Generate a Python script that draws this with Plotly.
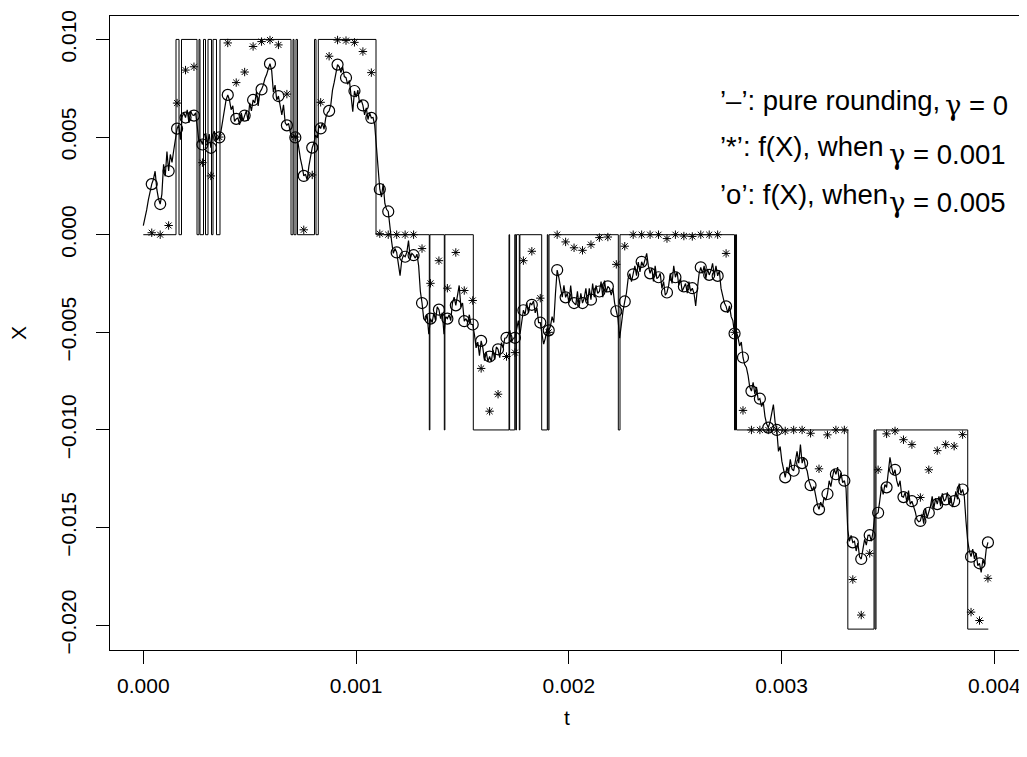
import numpy as np
import plotly.graph_objects as go

# ---------------- data ----------------
# simulated path X, values in units of 1e-3, sampled on a uniform time grid
PATH_DT = 7.94e-6          # time step of the path samples (s)
path_milli = [
    0.46,
    0.81, 1.27, 1.78, 2.28, 2.59,
    2.84, 3.25, 2.33, 1.83, 1.57,
    2.08, 3.60, 2.99, 4.26, 3.26,
    4.11, 3.70, 4.31, 5.0, 5.43,
    5.63, 4.87, 6.04, 6.24, 6.0,
    6.39, 5.73, 6.34, 6.14, 6.1,
    6.24, 5.53, 4.72, 4.87, 4.62,
    5.1, 5.2, 4.6, 5.15, 4.45,
    5.1, 5.3, 4.8, 4.9, 4.98,
    5.3, 5.9, 6.5, 6.9, 7.16,
    6.9, 6.4, 6.6, 5.8, 5.93,
    5.98, 5.63, 6.24, 5.83, 6.1,
    6.34, 5.83, 6.75, 6.34, 6.9,
    6.75, 7.3, 6.6, 7.3, 7.44,
    7.66, 8.0, 8.2, 8.5, 8.76,
    8.4, 7.3, 7.66, 6.9, 7.1,
    6.65, 6.14, 6.65, 5.73, 5.6,
    5.7, 5.25, 4.95, 5.1, 4.98,
    5.05, 4.4, 3.9, 3.5, 3.01,
    3.1, 2.8, 3.5, 4.1, 4.46,
    4.7, 5.1, 4.95, 5.6, 5.44,
    5.73, 5.4, 5.98, 6.24, 6.34,
    6.65, 7.4, 7.8, 8.2, 8.71,
    8.6, 8.3, 8.6, 8.1, 8.04,
    7.7, 7.9, 7.15, 6.3, 7.36,
    7.05, 7.4, 6.75, 6.9, 6.62,
    6.14, 6.5, 5.9, 6.24, 5.98,
    6.0, 5.6, 4.6, 3.2, 2.33,
    1.93, 2.6, 1.6, 1.3, 1.19,
    0.3, -0.35, -0.96, -0.7, -0.91,
    -1.6, -2.1, -1.3, -1.05, -1.13,
    -0.9, -0.3, -1.2, -0.96, -1.05,
    -1.2, -1.0, -1.6, -2.9, -3.5,
    -4.3, -4.4, -4.1, -5.1, -4.3,
    -4.5, -4.0, -4.4, -3.7, -3.84,
    -4.3, -4.0, -5.1, -4.2, -4.3,
    -4.1, -4.4, -3.5, -3.2, -3.62,
    -3.0, -2.6, -3.7, -3.5, -4.43,
    -4.3, -4.5, -4.1, -4.6, -4.6,
    -5.1, -5.8, -5.5, -6.2, -5.44,
    -5.8, -6.45, -6.0, -6.5, -6.24,
    -6.5, -5.9, -6.4, -5.75, -5.87,
    -6.3, -5.53, -5.8, -5.3, -5.28,
    -5.1, -4.9, -5.5, -5.3, -5.28,
    -4.8, -4.4, -5.1, -4.4, -3.87,
    -4.1, -3.5, -4.0, -3.5, -3.59,
    -3.4, -4.0, -3.75, -4.5, -4.5,
    -5.1, -5.6, -5.3, -4.8, -4.9,
    -4.7, -4.2, -4.5, -3.0, -1.81,
    -2.2, -2.7, -3.2, -2.6, -3.21,
    -3.0, -3.5, -2.6, -3.4, -3.5,
    -3.6, -2.9, -3.7, -3.0, -3.5,
    -3.25, -2.75, -3.5, -2.75, -3.33,
    -2.5, -3.2, -2.6, -3.0, -2.91,
    -2.4, -3.2, -2.35, -2.95, -2.65,
    -2.75, -3.1, -2.75, -3.5, -3.92,
    -4.3, -5.3, -4.5, -3.9, -3.42,
    -3.0, -2.25, -2.0, -2.4, -2.03,
    -1.6, -2.1, -1.4, -1.9, -1.39,
    -1.6, -1.2, -0.96, -1.6, -1.98,
    -1.7, -2.4, -1.6, -2.25, -2.18,
    -1.98, -2.75, -2.4, -3.1, -2.96,
    -2.6, -1.98, -2.5, -1.6, -2.18,
    -1.9, -2.6, -2.25, -2.9, -2.65,
    -2.5, -3.0, -2.4, -2.9, -2.74,
    -3.0, -3.65, -2.75, -2.0, -1.67,
    -1.98, -1.6, -2.25, -1.75, -2.06,
    -1.85, -1.47, -2.1, -1.6, -2.11,
    -1.85, -2.75, -3.1, -3.5, -3.67,
    -4.0, -3.65, -4.2, -4.4, -5.06,
    -4.95, -5.25, -5.7, -5.5, -6.29,
    -6.65, -6.8, -7.2, -7.8, -8.01,
    -7.56, -8.15, -7.8, -8.47, -8.4,
    -8.8, -8.57, -9.3, -9.7, -9.88,
    -9.6, -9.1, -8.7, -9.6, -10.0,
    -11.1, -10.85, -11.6, -12.1, -12.43,
    -11.9, -12.2, -11.5, -12.0, -12.09,
    -11.6, -11.1, -11.7, -10.75, -11.7,
    -11.4, -11.9, -12.1, -12.6, -12.83,
    -13.1, -12.9, -13.45, -13.8, -14.07,
    -13.7, -13.95, -13.45, -13.6, -13.28,
    -12.6, -12.9, -12.4, -12.0, -12.27,
    -11.9, -12.6, -12.2, -12.7, -12.6,
    -13.0, -15.1, -15.7, -15.4, -15.76,
    -15.7, -16.2, -15.8, -16.5, -16.61,
    -16.1, -15.6, -15.9, -15.4, -15.39,
    -15.7, -15.2, -14.4, -14.3, -14.24,
    -13.6, -12.9, -13.3, -12.8, -12.94,
    -12.1, -11.4, -11.9, -12.3, -12.04,
    -12.6, -12.9, -12.6, -13.4, -13.44,
    -13.2, -13.7, -13.1, -13.8, -13.65,
    -13.9, -14.2, -14.6, -14.7, -14.66,
    -14.3, -14.8, -14.0, -14.5, -14.24,
    -13.9, -13.4, -14.0, -13.5, -13.8,
    -13.4, -13.9, -13.25, -13.65, -13.56,
    -13.2, -13.8, -13.45, -13.95, -13.65,
    -13.15, -13.55, -12.75, -13.25, -13.05,
    -13.4, -14.66, -15.68, -16.2, -16.49,
    -16.1, -16.6, -16.3, -16.95, -16.83,
    -17.3, -16.65, -16.9, -16.1, -15.76,
]

# marker times: every 5th path sample (100 markers)
MARK_DT = 3.97e-5
# f(X), gamma = 0.005  (circles), units of 1e-3
circle_milli = [
    2.59, 1.57, 3.26, 5.43, 6.0, 6.1, 4.62, 4.45, 4.98, 7.16,
    5.93, 6.1, 6.9, 7.44, 8.76, 7.1, 5.6, 4.98, 3.01, 4.46,
    5.44, 6.34, 8.71, 8.04, 7.36, 6.62, 5.98, 2.33, 1.19, -0.91,
    -1.13, -1.05, -3.5, -4.3, -3.84, -4.3, -3.62, -4.43, -4.6, -5.44,
    -6.24, -5.87, -5.28, -5.28, -3.87, -3.59, -4.5, -4.9, -1.81, -3.21,
    -3.5, -3.5, -3.33, -2.91, -2.65, -3.92, -3.42, -2.03, -1.39, -1.98,
    -2.18, -2.96, -2.18, -2.65, -2.74, -1.67, -2.06, -2.11, -3.67, -5.06,
    -6.29, -8.01, -8.4, -9.88, -10.0, -12.43, -12.09, -11.7, -12.83, -14.07,
    -13.28, -12.27, -12.6, -15.76, -16.61, -15.39, -14.24, -12.94, -12.04, -13.44,
    -13.65, -14.66, -14.24, -13.8, -13.56, -13.65, -13.05, -16.49, -16.83, -15.76,
]
# f(X), gamma = 0.001  (stars), units of 1e-3
star_milli = [
    0.1, 0.0, 0.47, 6.74, 8.43, 8.6, 3.69, 3.01, 5.0, 9.82,
    7.79, 8.33, 9.64, 9.89, 9.97, 9.72, 7.2, 5.0, 0.25, 3.06,
    6.78, 9.14, 9.97, 9.94, 9.85, 9.38, 8.3, 0.05, 0.0, 0.0,
    0.0, 0.0, -0.71, -2.49, -1.33, -2.74, -0.91, -2.86, -3.37, -6.85,
    -9.04, -8.17, -6.24, -6.04, -1.33, -0.85, -3.25, -5.0, 0.0, -0.37,
    -0.67, -0.8, -0.51, -0.15, -0.12, -1.52, -0.59, 0.0, 0.0, 0.0,
    0.0, -0.2, 0.0, -0.07, -0.09, 0.0, 0.0, 0.0, -0.96, -5.0,
    -9.0, -10.0, -10.0, -10.0, -10.0, -10.05, -10.0, -10.0, -10.17, -11.99,
    -10.25, -10.0, -10.0, -17.66, -19.48, -16.32, -12.04, -10.2, -10.05, -10.5,
    -10.75, -13.46, -12.04, -11.06, -10.75, -10.83, -10.24, -19.33, -19.76, -17.6,
]
# pure rounding (gamma = 0): switch times (microseconds) and new level
round_t_us = [0, 153.7, 167.8, 179.6, 252.4, 261.8, 266.5, 283.0, 292.4, 304.1,
              320.6, 327.6, 344.1, 360.5, 694.3, 703.7, 708.4, 717.8, 724.8, 804.7,
              811.8, 822.6, 1093.8, 1344.3, 1347.1, 1414.8, 1417.6, 1551.1, 1719.0, 1721.8,
              1745.9, 1750.6, 1753.9, 1767.3, 1770.1, 1872.6, 1899.0, 1902.3, 1907.0, 2232.7,
              2240.6, 2778.9, 2783.6, 2788.3, 3311.5, 3434.6, 3439.3, 3444.0, 3875.0, 3971.8]
round_level = [0, 0.01, 0, 0.01, 0, 0.01, 0, 0.01, 0, 0.01,
               0, 0.01, 0, 0.01, 0, 0.01, 0, 0.01, 0, 0.01,
               0, 0.01, 0, -0.01, 0, -0.01, 0, -0.01, 0, -0.01,
               0, -0.01, 0, -0.01, 0, -0.01, 0, -0.01, 0, -0.01,
               0, -0.01, 0, -0.01, -0.0202, -0.01, -0.0202, -0.01, -0.0202, -0.0202]

x_ticks = [0.000, 0.001, 0.002, 0.003, 0.004]
x_ticktext = ["0.000", "0.001", "0.002", "0.003", "0.004"]
y_ticks = [0.010, 0.005, 0.000, -0.005, -0.010, -0.015, -0.020]
y_ticktext = ["0.010", "0.005", "0.000", "\u22120.005", "\u22120.010", "\u22120.015", "\u22120.020"]

# ---------------- figure ----------------
path_t = np.arange(len(path_milli)) * PATH_DT
path_v = np.array(path_milli) * 1e-3
mark_t = np.arange(1, len(circle_milli) + 1) * MARK_DT
circle_v = np.array(circle_milli) * 1e-3
star_v = np.array(star_milli) * 1e-3
round_t = np.array(round_t_us) * 1e-6

FONT = "Liberation Sans, Arial, Helvetica, sans-serif"

fig = go.Figure()
fig.add_trace(go.Scatter(x=round_t, y=round_level, mode="lines",
                         line=dict(color="black", width=1, shape="hv"),
                         hoverinfo="skip", showlegend=False))
fig.add_trace(go.Scatter(x=path_t, y=path_v, mode="lines",
                         line=dict(color="black", width=1.2),
                         hoverinfo="skip", showlegend=False))
fig.add_trace(go.Scatter(x=mark_t, y=star_v, mode="markers",
                         marker=dict(symbol="asterisk-open", size=7, color="black",
                                     line=dict(color="black", width=1)),
                         showlegend=False))
fig.add_trace(go.Scatter(x=mark_t, y=circle_v, mode="markers",
                         marker=dict(symbol="circle-open", size=11, color="black",
                                     line=dict(color="black", width=1.2)),
                         showlegend=False))

axis_common = dict(showline=True, mirror=True, linecolor="black", linewidth=1,
                   showgrid=False, zeroline=False, ticks="outside", ticklen=13,
                   tickwidth=1, tickcolor="black", ticklabeloverflow="allow",
                   tickfont=dict(family=FONT, size=21, color="black"))

fig.update_xaxes(range=[-0.0001565, 0.004116], tickmode="array",
                 tickvals=x_ticks, ticktext=x_ticktext, ticklabelstandoff=4,
                 **axis_common)
fig.update_yaxes(range=[-0.02127, 0.0112], tickmode="array",
                 tickvals=y_ticks, ticktext=y_ticktext, tickangle=-90,
                 ticklabelstandoff=12, **axis_common)

ann_font = dict(family=FONT, size=21, color="black")
leg_font = dict(family=FONT, size=27.5, color="black")
G = "<span style='font-family:DejaVu Serif'>\u03b3</span>"
annotations = [
    dict(text="t", x=0.5028, y=-0.106, xref="paper", yref="paper",
         xanchor="center", yanchor="middle", showarrow=False, font=ann_font),
    dict(text="X", x=-0.1012, y=0.5, xref="paper", yref="paper", textangle=-90,
         xanchor="center", yanchor="middle", showarrow=False, font=ann_font),
    dict(text="\u2019\u2013\u2019: pure rounding,", x=0.6689, y=0.867, xref="paper", yref="paper",
         xanchor="left", yanchor="middle", showarrow=False, font=leg_font),
    dict(text=G + " = 0", x=0.9164, y=0.859, xref="paper", yref="paper",
         xanchor="left", yanchor="middle", showarrow=False, font=leg_font),
    dict(text="\u2019*\u2019: f(X), when", x=0.6689, y=0.7935, xref="paper", yref="paper",
         xanchor="left", yanchor="middle", showarrow=False, font=leg_font),
    dict(text=G + " = 0.001", x=0.8548, y=0.783, xref="paper", yref="paper",
         xanchor="left", yanchor="middle", showarrow=False, font=leg_font),
    dict(text="\u2019o\u2019: f(X), when", x=0.6689, y=0.718, xref="paper", yref="paper",
         xanchor="left", yanchor="middle", showarrow=False, font=leg_font),
    dict(text=G + " = 0.005", x=0.8548, y=0.7063, xref="paper", yref="paper",
         xanchor="left", yanchor="middle", showarrow=False, font=leg_font),
]

# the page body has an 8 px margin, so the figure is shifted by -8 px here
fig.update_layout(width=1019, height=749,
                  margin=dict(l=102, r=8, t=2, b=107, pad=0),
                  paper_bgcolor="white", plot_bgcolor="white",
                  showlegend=False, annotations=annotations,
                  font=dict(family=FONT, color="black"))

fig.write_html("out.html")
